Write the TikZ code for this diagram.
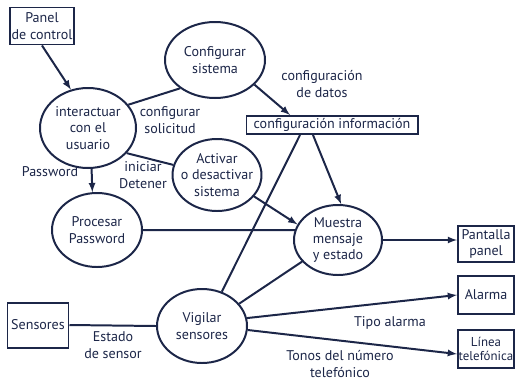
\documentclass[tikz,border=0pt]{standalone}
\usepackage{fontspec}
\setmainfont{PT Sans}
\usetikzlibrary{shapes.geometric,calc}
\definecolor{tinta}{RGB}{28,38,72}

\begin{document}
\begin{tikzpicture}[x=0.03cm, y=-0.03cm, line width=1.7pt, color=tinta, font=\large,
	proceso/.style={ellipse, draw, inner sep=-4pt, align=center},
	entidad/.style={rectangle, draw, inner sep=1pt, align=center},
	etiqueta/.style={align=center}]
	\useasboundingbox (0,0) rectangle (515,390);

	% entidades externas
	\node [entidad, minimum width=1.86cm, minimum height=1.11cm] (panel) at (42,26) {Panel\\de control};
	\node [entidad, minimum width=1.83cm, minimum height=1.35cm] (sen) at (38,325) {Sensores};
	\node [entidad, minimum width=1.68cm, minimum height=1.08cm] (pan) at (486,244) {Pantalla\\panel};
	\node [entidad, minimum width=1.68cm, minimum height=1.14cm] (ala) at (486,295) {Alarma};
	\node [entidad, minimum width=1.68cm, minimum height=1.14cm, inner sep=0pt, font=\fontsize{11}{12}\selectfont] (lin) at (486,349) {Línea\\telefónica};
	\node [entidad, minimum width=5.13cm, minimum height=0.54cm, inner sep=0pt] (info) at (332,125) {configuración información};

	% procesos
	\node [proceso, minimum width=3cm, minimum height=2.28cm] (conf) at (215,60) {Configurar\\sistema};
	\node [proceso, minimum width=2.88cm, minimum height=2.4cm] (inter) at (88,128) {interactuar\\con el\\usuario};
	\node [proceso, minimum width=2.64cm, minimum height=2.16cm] (act) at (217,175) {Activar\\o desactivar\\sistema};
	\node [proceso, minimum width=2.7cm, minimum height=2.22cm] (proc) at (97,230) {Procesar\\Password};
	\node [proceso, minimum width=2.64cm, minimum height=2.1cm] (mue) at (338,240) {Muestra\\mensaje\\y estado};
	\node [proceso, minimum width=2.7cm, minimum height=2.22cm] (vig) at (202,326) {Vigilar\\sensores};

	% flujos
	\draw [-latex] (panel.south) -- (inter.114);
	\draw (inter.30) -- (conf.219);
	\draw [-latex] (conf.-32) -- ($(info.north)+(-42,0)$);
	\draw [-latex] (inter.275) -- (proc.97);
	\draw (inter.-33) -- (act.167);
	\draw [-latex] (act.-30) -- (mue.159);
	\draw [-latex] ($(info.south)+(-19,0)$) -- (mue.85);
	\draw ($(info.south)+(-32,0)$) -- (vig.60);
	\draw (proc.east) -- (mue.167);
	\draw (vig.31) -- (mue.211);
	\draw [-latex] (mue.east) -- (mue.east -| pan.west);
	\draw [-latex] (vig.10) -- (ala.west);
	\draw [-latex] (vig.-5) -- ($(lin.west)+(0,5)$);
	\draw (sen.east) -- (vig.west);

	% etiquetas
	\node [etiqueta] (lconf) at (170,120) {configurar\\solicitud};
	\node [etiqueta] (ldatos) at (322,84) {configuración\\de datos};
	\node [etiqueta] (lpass) at (50,172) {Password};
	\node [etiqueta] (linic) at (143,175) {iniciar\\Detener};
	\node [etiqueta] (lest) at (113,345) {Estado\\de sensor};
	\node [etiqueta] (ltipo) at (390,323) {Tipo alarma};
	\node [etiqueta] (ltonos) at (340,364) {Tonos del número\\telefónico};
\end{tikzpicture}
\end{document}
